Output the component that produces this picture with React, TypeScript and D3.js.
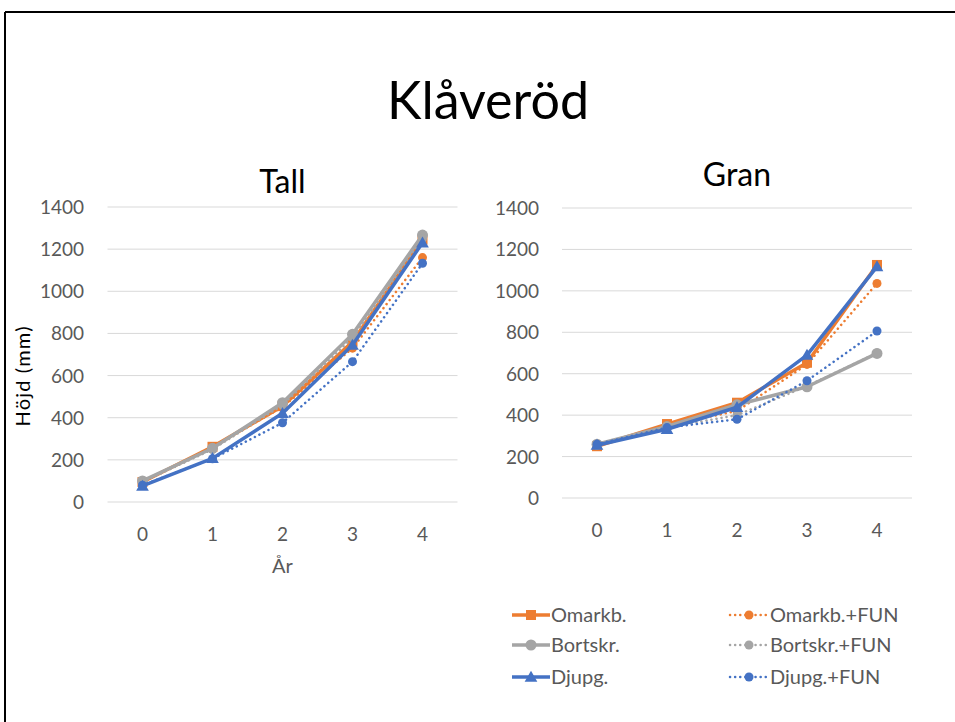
import React from "react";
import * as d3 from "d3";

const years = [0, 1, 2, 3, 4];
const yTicks = [0, 200, 400, 600, 800, 1000, 1200, 1400];
const seriesNames = ["Omarkb.", "Omarkb.+FUN", "Bortskr.", "Bortskr.+FUN", "Djupg.", "Djupg.+FUN"];
const tallValues = [
  [95, 262, 455, 760, 1245],
  [95, 262, 450, 730, 1160],
  [100, 255, 471, 796, 1267],
  [95, 250, 460, 780, 1250],
  [76, 207, 421, 745, 1230],
  [80, 205, 376, 666, 1133],
];
const granValues = [
  [250, 357, 460, 653, 1125],
  [255, 350, 420, 645, 1036],
  [260, 345, 450, 537, 698],
  [255, 340, 400, 540, 700],
  [255, 332, 438, 690, 1117],
  [260, 340, 380, 566, 806],
];

const COLORS = ["#ED7D31", "#ED7D31", "#A5A5A5", "#A5A5A5", "#4472C4", "#4472C4"];
const DOTTED = [false, true, false, true, false, true];
const MARKERS = ["square", "circle", "circle", "circle", "triangle", "circle"];
const FONT = "Lato, 'Open Sans', sans-serif";
const TXT = "#595959";

function Marker({ type, x, y, color, small }: { type: string; x: number; y: number; color: string; small?: boolean }) {
  if (type === "square") return <rect x={x - 5} y={y - 5} width={10} height={10} fill={color} />;
  if (type === "triangle") {
    const p = d3.symbol().type(d3.symbolTriangle).size(70)();
    return <path d={p as string} transform={`translate(${x},${y + 1})`} fill={color} />;
  }
  return <circle cx={x} cy={y} r={small ? 4.5 : 5.5} fill={color} />;
}

function Panel({ values, x0, x1, y0, y1, title, titleY, showXTitle, showYTitle, labelX }: any) {
  const xs = d3.scaleBand<number>().domain(years).range([x0, x1]);
  const ys = d3.scaleLinear().domain([0, 1400]).range([y0, y1]);
  const cx = (d: number) => (xs(d) as number) + xs.bandwidth() / 2;
  const line = d3.line<number>().x((_, i) => cx(years[i])).y((v) => ys(v));
  return (
    <g>
      <text x={(x0 + x1) / 2} y={titleY} textAnchor="middle" fontSize={32} fill="#000" fontFamily={FONT}>{title}</text>
      {yTicks.map((t) => (
        <g key={t}>
          <line x1={x0} x2={x1} y1={ys(t)} y2={ys(t)} stroke="#D9D9D9" strokeWidth={1} />
          <text x={labelX} y={ys(t) + 7} textAnchor="end" fontSize={19} fill={TXT} fontFamily={FONT}>{t}</text>
        </g>
      ))}
      {years.map((yr) => (
        <text key={yr} x={cx(yr)} y={y0 + 39} textAnchor="middle" fontSize={19} fill={TXT} fontFamily={FONT}>{yr}</text>
      ))}
      {showXTitle && (
        <text x={(x0 + x1) / 2} y={y0 + 71} textAnchor="middle" fontSize={20} fill={TXT} fontFamily={FONT}>År</text>
      )}
      {showYTitle && (
        <text transform={`translate(30,${(y0 + y1) / 2 + 22}) rotate(-90)`} textAnchor="middle" fontSize={20} fill="#000" fontFamily={FONT} textLength={100} lengthAdjust="spacing">Höjd (mm)</text>
      )}
      {values.map((vals: number[], si: number) => (
        <g key={si}>
          <path
            d={line(vals) as string}
            fill="none"
            stroke={COLORS[si]}
            strokeWidth={DOTTED[si] ? 2.5 : 3.5}
            strokeDasharray={DOTTED[si] ? "0.1 5" : undefined}
            strokeLinecap={DOTTED[si] ? "round" : "butt"}
            strokeLinejoin="round"
          />
          {vals.map((v, i) => (
            <Marker key={i} type={MARKERS[si]} x={cx(years[i])} y={ys(v)} color={COLORS[si]} small={DOTTED[si]} />
          ))}
        </g>
      ))}
    </g>
  );
}

export default function App() {
  const legendRows = [0, 1, 2];
  return (
    <svg width={955} height={722} style={{ position: "absolute", left: 0, top: 0, background: "#fff" }}>
      <rect x={0} y={0} width={955} height={722} fill="#fff" />
      <line x1={5} x2={5} y1={12} y2={722} stroke="#000" strokeWidth={2} />
      <line x1={5} x2={955} y1={12} y2={12} stroke="#000" strokeWidth={2} />
      <text x={488} y={119} textAnchor="middle" fontSize={52} fill="#000" fontFamily={FONT}>Klåveröd</text>
      <Panel values={tallValues} x0={107.5} x1={457.5} y0={502} y1={207} title="Tall" titleY={193} showXTitle showYTitle labelX={84} />
      <Panel values={granValues} x0={562} x1={912} y0={498} y1={208} title="Gran" titleY={186} labelX={539} />
      {legendRows.map((r) =>
        [0, 1].map((c) => {
          const si = r * 2 + c;
          const lx = c === 0 ? 512 : 730;
          const ly = [615, 645, 677][r];
          return (
            <g key={si}>
              <line
                x1={lx}
                x2={lx + 38}
                y1={ly}
                y2={ly}
                stroke={COLORS[si]}
                strokeWidth={DOTTED[si] ? 2.5 : 3.5}
                strokeDasharray={DOTTED[si] ? "0.1 5" : undefined}
                strokeLinecap={DOTTED[si] ? "round" : "butt"}
              />
              <Marker type={MARKERS[si]} x={lx + 19} y={ly} color={COLORS[si]} small={DOTTED[si]} />
              <text x={lx + (c === 0 ? 39 : 40)} y={ly + 7} fontSize={20} fill={TXT} fontFamily={FONT}>{seriesNames[si]}</text>
            </g>
          );
        })
      )}
    </svg>
  );
}
